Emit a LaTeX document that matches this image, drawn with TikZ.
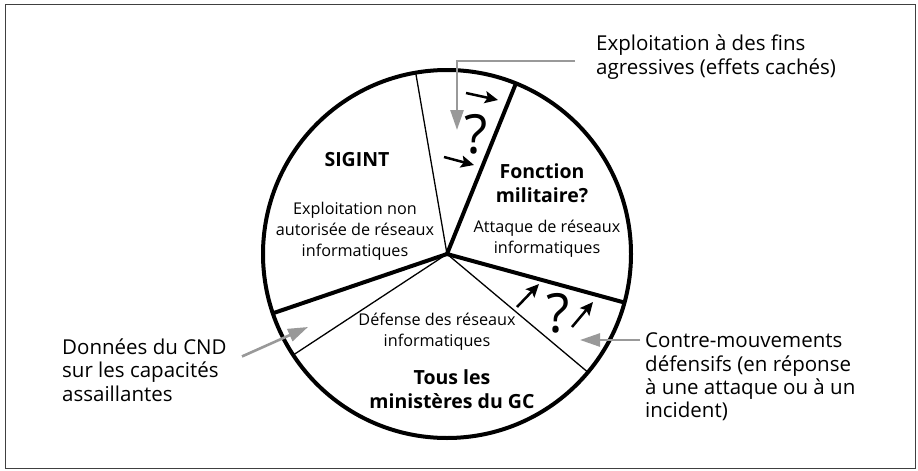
\documentclass[tikz,border=0pt]{standalone}
\usepackage{fontspec}
\setmainfont{Open Sans}
\usetikzlibrary{arrows.meta,positioning}

\tikzset{
  rim/.style={line width=4pt},
  thickspoke/.style={line width=4pt},
  thinspoke/.style={line width=1.3pt},
  inhead/.style={align=center,inner sep=0pt,font=\fontsize{19.5}{23.5}\selectfont\bfseries},
  inlabel/.style={align=center,inner sep=0pt,font=\fontsize{16.2}{20.8}\selectfont},
  outlabel/.style={align=left,inner sep=0pt,anchor=west,font=\fontsize{20.5}{23.4}\selectfont},
  qmark/.style={inner sep=0pt,font=\fontsize{54}{54}\selectfont},
  pointer/.style={draw=black!40,line width=2.6pt,-{Triangle[length=20pt,width=13pt]}},
  push/.style={line width=2.5pt,-{Stealth[length=13pt,width=12pt,inset=2.5pt]}},
}

\begin{document}
\begin{tikzpicture}[x=1pt,y=-1pt]
\useasboundingbox (0,0) rectangle (918,471);
\draw[black!75,line width=1pt] (5,4) rectangle (915,468);

% pie
\coordinate (O) at (447,254);
\draw[thinspoke] (O) -- ++(99.8:184pt);
\draw[thickspoke] (O) -- ++(68:184pt);
\draw[thickspoke] (O) -- ++(-15.3:184pt);
\draw[thinspoke] (O) -- ++(-40:184pt);
\draw[thinspoke] (O) -- ++(213.3:184pt);
\draw[thickspoke] (O) -- ++(198.8:184pt);
\draw[rim] (O) circle[radius=184pt];

% sector texts
\node[inhead] (sigint) at (357,160) {SIGINT};
\node[inlabel] (sigintdesc) at (355,231) {Exploitation non\\autorisée de réseaux\\informatiques};
\node[inhead] (milit) at (542,183) {Fonction\\militaire?};
\node[inlabel] (attdesc) at (547,239) {Attaque de réseaux\\informatiques};
\node[inlabel] (defdesc) at (437,332) {Défense des réseaux\\informatiques};
\node[inhead] (gc) at (452,389) {Tous les\\ministères du GC};
\node[qmark] (qtop) at (476,134) {?};
\node[qmark] (qlow) at (558,313) {?};

% small arrows
\draw[push] (466,93) -- (498,100);
\draw[push] (444,157) -- (474,165);
\draw[push] (517,307) -- (539,284);
\draw[push] (572,327) -- (593,302);

% outside labels
\node[outlabel] (agr) at (596,57) {Exploitation à des fins\\agressives (effets cachés)};
\node[outlabel] (cmv) at (645,377) {Contre-mouvements\\défensifs (en réponse\\à une attaque ou à un\\incident)};
\node[outlabel] (cnd) at (62,370) {Données du CND\\sur les capacités\\assaillantes};

\coordinate (qtip) at (457,130);
\coordinate (cmvtip) at (580,340);
\coordinate (cndtip) at (308,327);
\draw[pointer,shorten <=21pt] ([yshift=-4pt]agr.west) -| (qtip);
\draw[pointer,shorten <=5pt] (cmv.west |- cmvtip) -- (cmvtip);
\draw[pointer] ([xshift=180pt,yshift=-18pt]cnd.north west) -- (cndtip);
\end{tikzpicture}
\end{document}
